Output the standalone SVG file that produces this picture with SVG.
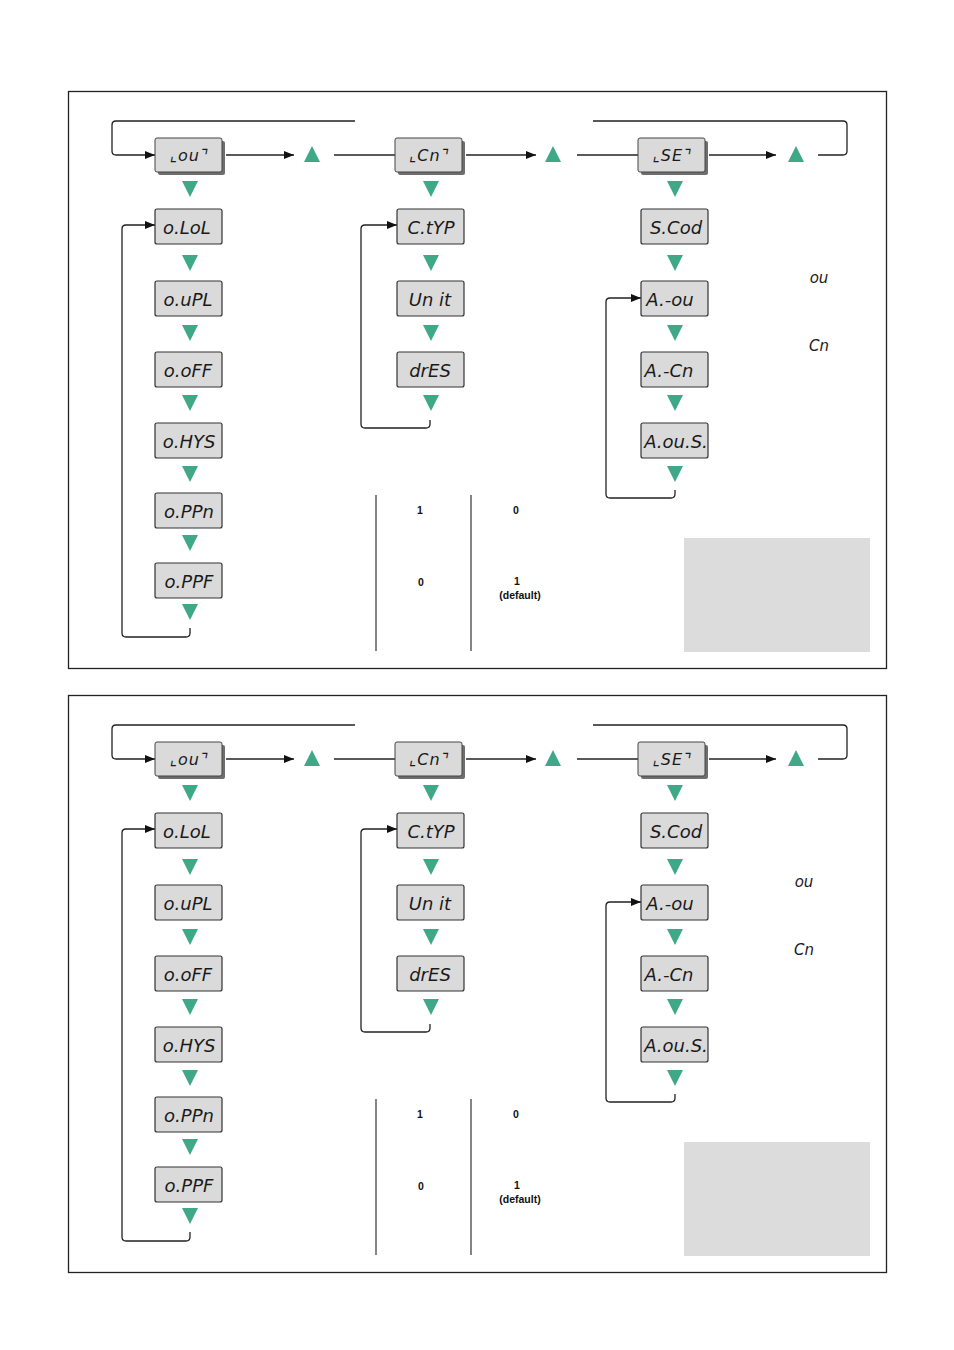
<svg xmlns="http://www.w3.org/2000/svg" width="954" height="1350" viewBox="0 0 954 1350">
<defs>
<marker id="ah" markerWidth="10" markerHeight="8" refX="10" refY="4" orient="auto" markerUnits="userSpaceOnUse"><path d="M0,0 L10,4 L0,8 z" fill="#111"/></marker>
<style>
.frame{fill:none;stroke:#222;stroke-width:1.3}
.con{fill:none;stroke:#222;stroke-width:1.3}
.arr{fill:none;stroke:#222;stroke-width:1.3;marker-end:url(#ah)}
.box{fill:#dadada;stroke:#333;stroke-width:1.2}
.hbox{fill:#dadada;stroke:#444;stroke-width:1}
.shadow{fill:#6e6e6e}
.seg{font-family:"DejaVu Sans","Liberation Sans",sans-serif;font-style:italic;font-size:18px;fill:#1a1a1a;text-anchor:middle}
.hseg{font-family:"DejaVu Sans","Liberation Sans",sans-serif;font-style:italic;font-size:16px;letter-spacing:1px;fill:#1a1a1a;text-anchor:middle}
.leg{font-family:"DejaVu Sans","Liberation Sans",sans-serif;font-style:italic;font-size:15px;fill:#1a1a1a;text-anchor:middle}
.tri{fill:#3fa886}
.tbl{font-family:"Liberation Sans",Arial,sans-serif;font-weight:bold;font-size:10.5px;fill:#111;text-anchor:middle}
.vl{stroke:#333;stroke-width:1.2}
.gray{fill:#dcdcdc}
</style>
</defs>
<rect width="954" height="1350" fill="#fff"/>

<!-- ===== TOP PANEL ===== -->
<rect class="frame" x="68.5" y="91.5" width="818" height="577"/>
<g id="connectors-top">
<path class="con" d="M355,121 L116,121 Q112,121 112,125 L112,151 Q112,155 116,155 L155,155" marker-end="url(#ah)"/>
<path class="con" d="M593,121 L843,121 Q847,121 847,125 L847,151 Q847,155 843,155 L818,155"/>
<path class="arr" d="M226,155 L294,155"/>
<path class="con" d="M334,155 L395,155"/>
<path class="arr" d="M466,155 L536,155"/>
<path class="con" d="M577,155 L638,155"/>
<path class="arr" d="M709,155 L776,155"/>
<path class="arr" d="M190,628 L190,633 Q190,637 186,637 L126,637 Q122,637 122,633 L122,229 Q122,225 126,225 L155,225"/>
<path class="arr" d="M430,420 L430,424 Q430,428 426,428 L365,428 Q361,428 361,424 L361,229 Q361,225 365,225 L397,225"/>
<path class="arr" d="M675,490 L675,494 Q675,498 671,498 L610,498 Q606,498 606,494 L606,302 Q606,298 610,298 L641,298"/>
<path class="tri" d="M304,162 L320,162 L312,146 z"/>
<path class="tri" d="M545,162 L561,162 L553,146 z"/>
<path class="tri" d="M788,162 L804,162 L796,146 z"/>
<path class="tri" d="M182,181 L198,181 L190,197 z"/>
<path class="tri" d="M182,255 L198,255 L190,271 z"/>
<path class="tri" d="M182,325 L198,325 L190,341 z"/>
<path class="tri" d="M182,395 L198,395 L190,411 z"/>
<path class="tri" d="M182,466 L198,466 L190,482 z"/>
<path class="tri" d="M182,535 L198,535 L190,551 z"/>
<path class="tri" d="M182,604 L198,604 L190,620 z"/>
<path class="tri" d="M423,181 L439,181 L431,197 z"/>
<path class="tri" d="M423,255 L439,255 L431,271 z"/>
<path class="tri" d="M423,325 L439,325 L431,341 z"/>
<path class="tri" d="M423,395 L439,395 L431,411 z"/>
<path class="tri" d="M667,181 L683,181 L675,197 z"/>
<path class="tri" d="M667,255 L683,255 L675,271 z"/>
<path class="tri" d="M667,325 L683,325 L675,341 z"/>
<path class="tri" d="M667,395 L683,395 L675,411 z"/>
<path class="tri" d="M667,466 L683,466 L675,482 z"/>
</g>
<g id="hdr-lou-top"><rect class="shadow" x="158" y="141" width="67" height="34" rx="2"/><rect class="hbox" x="155" y="138" width="67" height="34" rx="2"/><text class="hseg" x="189" y="161">⌞ou⌝</text></g>
<g id="hdr-cn-top"><rect class="shadow" x="398" y="141" width="67" height="34" rx="2"/><rect class="hbox" x="395" y="138" width="67" height="34" rx="2"/><text class="hseg" x="429" y="161">⌞Cn⌝</text></g>
<g id="hdr-se-top"><rect class="shadow" x="641" y="141" width="67" height="34" rx="2"/><rect class="hbox" x="638" y="138" width="67" height="34" rx="2"/><text class="hseg" x="672" y="161">⌞SE⌝</text></g>
<g id="olol-top"><rect class="box" x="155" y="209" width="67" height="35" rx="2"/><text class="seg" x="187" y="234">o.LoL</text></g>
<g id="oupl-top"><rect class="box" x="155" y="281" width="67" height="35" rx="2"/><text class="seg" x="188" y="306">o.uPL</text></g>
<g id="ooff-top"><rect class="box" x="155" y="352" width="67" height="35" rx="2"/><text class="seg" x="188" y="377">o.oFF</text></g>
<g id="ohys-top"><rect class="box" x="155" y="423" width="67" height="35" rx="2"/><text class="seg" x="189" y="448">o.HYS</text></g>
<g id="oppn-top"><rect class="box" x="155" y="493" width="67" height="35" rx="2"/><text class="seg" x="189" y="518">o.PPn</text></g>
<g id="oppf-top"><rect class="box" x="155" y="563" width="67" height="35" rx="2"/><text class="seg" x="189" y="588">o.PPF</text></g>
<g id="ctyp-top"><rect class="box" x="397" y="209" width="67" height="35" rx="2"/><text class="seg" x="431" y="234">C.tYP</text></g>
<g id="unit-top"><rect class="box" x="397" y="281" width="67" height="35" rx="2"/><text class="seg" x="430" y="306">Un it</text></g>
<g id="dres-top"><rect class="box" x="397" y="352" width="67" height="35" rx="2"/><text class="seg" x="430" y="377">drES</text></g>
<g id="scod-top"><rect class="box" x="641" y="209" width="67" height="35" rx="2"/><text class="seg" x="676" y="234">S.Cod</text></g>
<g id="aou-top"><rect class="box" x="641" y="281" width="67" height="35" rx="2"/><text class="seg" x="670" y="306">A.-ou</text></g>
<g id="acn-top"><rect class="box" x="641" y="352" width="67" height="35" rx="2"/><text class="seg" x="669" y="377">A.-Cn</text></g>
<g id="aous-top"><rect class="box" x="641" y="423" width="67" height="35" rx="2"/><text class="seg" x="676" y="448">A.ou.S.</text></g>
<g id="legend-top">
<text class="leg" x="819" y="283">ou</text>
<text class="leg" x="819" y="351">Cn</text>
<line class="vl" x1="376" y1="495" x2="376" y2="651"/>
<line class="vl" x1="471" y1="495" x2="471" y2="651"/>
<text class="tbl" x="420" y="514">1</text>
<text class="tbl" x="516" y="514">0</text>
<text class="tbl" x="421" y="586">0</text>
<text class="tbl" x="517" y="585">1</text>
<text class="tbl" x="520" y="599">(default)</text>
<rect class="gray" x="684" y="538" width="186" height="114"/>
</g>

<!-- ===== BOTTOM PANEL ===== -->
<rect class="frame" x="68.5" y="695.5" width="818" height="577"/>
<g id="connectors-bottom" transform="translate(0,604)">
<path class="con" d="M355,121 L116,121 Q112,121 112,125 L112,151 Q112,155 116,155 L155,155" marker-end="url(#ah)"/>
<path class="con" d="M593,121 L843,121 Q847,121 847,125 L847,151 Q847,155 843,155 L818,155"/>
<path class="arr" d="M226,155 L294,155"/>
<path class="con" d="M334,155 L395,155"/>
<path class="arr" d="M466,155 L536,155"/>
<path class="con" d="M577,155 L638,155"/>
<path class="arr" d="M709,155 L776,155"/>
<path class="arr" d="M190,628 L190,633 Q190,637 186,637 L126,637 Q122,637 122,633 L122,229 Q122,225 126,225 L155,225"/>
<path class="arr" d="M430,420 L430,424 Q430,428 426,428 L365,428 Q361,428 361,424 L361,229 Q361,225 365,225 L397,225"/>
<path class="arr" d="M675,490 L675,494 Q675,498 671,498 L610,498 Q606,498 606,494 L606,302 Q606,298 610,298 L641,298"/>
<path class="tri" d="M304,162 L320,162 L312,146 z"/>
<path class="tri" d="M545,162 L561,162 L553,146 z"/>
<path class="tri" d="M788,162 L804,162 L796,146 z"/>
<path class="tri" d="M182,181 L198,181 L190,197 z"/>
<path class="tri" d="M182,255 L198,255 L190,271 z"/>
<path class="tri" d="M182,325 L198,325 L190,341 z"/>
<path class="tri" d="M182,395 L198,395 L190,411 z"/>
<path class="tri" d="M182,466 L198,466 L190,482 z"/>
<path class="tri" d="M182,535 L198,535 L190,551 z"/>
<path class="tri" d="M182,604 L198,604 L190,620 z"/>
<path class="tri" d="M423,181 L439,181 L431,197 z"/>
<path class="tri" d="M423,255 L439,255 L431,271 z"/>
<path class="tri" d="M423,325 L439,325 L431,341 z"/>
<path class="tri" d="M423,395 L439,395 L431,411 z"/>
<path class="tri" d="M667,181 L683,181 L675,197 z"/>
<path class="tri" d="M667,255 L683,255 L675,271 z"/>
<path class="tri" d="M667,325 L683,325 L675,341 z"/>
<path class="tri" d="M667,395 L683,395 L675,411 z"/>
<path class="tri" d="M667,466 L683,466 L675,482 z"/>
</g>
<g id="hdr-lou-bot"><rect class="shadow" x="158" y="745" width="67" height="34" rx="2"/><rect class="hbox" x="155" y="742" width="67" height="34" rx="2"/><text class="hseg" x="189" y="765">⌞ou⌝</text></g>
<g id="hdr-cn-bot"><rect class="shadow" x="398" y="745" width="67" height="34" rx="2"/><rect class="hbox" x="395" y="742" width="67" height="34" rx="2"/><text class="hseg" x="429" y="765">⌞Cn⌝</text></g>
<g id="hdr-se-bot"><rect class="shadow" x="641" y="745" width="67" height="34" rx="2"/><rect class="hbox" x="638" y="742" width="67" height="34" rx="2"/><text class="hseg" x="672" y="765">⌞SE⌝</text></g>
<g id="olol-bot"><rect class="box" x="155" y="813" width="67" height="35" rx="2"/><text class="seg" x="187" y="838">o.LoL</text></g>
<g id="oupl-bot"><rect class="box" x="155" y="885" width="67" height="35" rx="2"/><text class="seg" x="188" y="910">o.uPL</text></g>
<g id="ooff-bot"><rect class="box" x="155" y="956" width="67" height="35" rx="2"/><text class="seg" x="188" y="981">o.oFF</text></g>
<g id="ohys-bot"><rect class="box" x="155" y="1027" width="67" height="35" rx="2"/><text class="seg" x="189" y="1052">o.HYS</text></g>
<g id="oppn-bot"><rect class="box" x="155" y="1097" width="67" height="35" rx="2"/><text class="seg" x="189" y="1122">o.PPn</text></g>
<g id="oppf-bot"><rect class="box" x="155" y="1167" width="67" height="35" rx="2"/><text class="seg" x="189" y="1192">o.PPF</text></g>
<g id="ctyp-bot"><rect class="box" x="397" y="813" width="67" height="35" rx="2"/><text class="seg" x="431" y="838">C.tYP</text></g>
<g id="unit-bot"><rect class="box" x="397" y="885" width="67" height="35" rx="2"/><text class="seg" x="430" y="910">Un it</text></g>
<g id="dres-bot"><rect class="box" x="397" y="956" width="67" height="35" rx="2"/><text class="seg" x="430" y="981">drES</text></g>
<g id="scod-bot"><rect class="box" x="641" y="813" width="67" height="35" rx="2"/><text class="seg" x="676" y="838">S.Cod</text></g>
<g id="aou-bot"><rect class="box" x="641" y="885" width="67" height="35" rx="2"/><text class="seg" x="670" y="910">A.-ou</text></g>
<g id="acn-bot"><rect class="box" x="641" y="956" width="67" height="35" rx="2"/><text class="seg" x="669" y="981">A.-Cn</text></g>
<g id="aous-bot"><rect class="box" x="641" y="1027" width="67" height="35" rx="2"/><text class="seg" x="676" y="1052">A.ou.S.</text></g>
<g id="legend-bot">
<text class="leg" x="804" y="887">ou</text>
<text class="leg" x="804" y="955">Cn</text>
<line class="vl" x1="376" y1="1099" x2="376" y2="1255"/>
<line class="vl" x1="471" y1="1099" x2="471" y2="1255"/>
<text class="tbl" x="420" y="1118">1</text>
<text class="tbl" x="516" y="1118">0</text>
<text class="tbl" x="421" y="1190">0</text>
<text class="tbl" x="517" y="1189">1</text>
<text class="tbl" x="520" y="1203">(default)</text>
<rect class="gray" x="684" y="1142" width="186" height="114"/>
</g>
</svg>
